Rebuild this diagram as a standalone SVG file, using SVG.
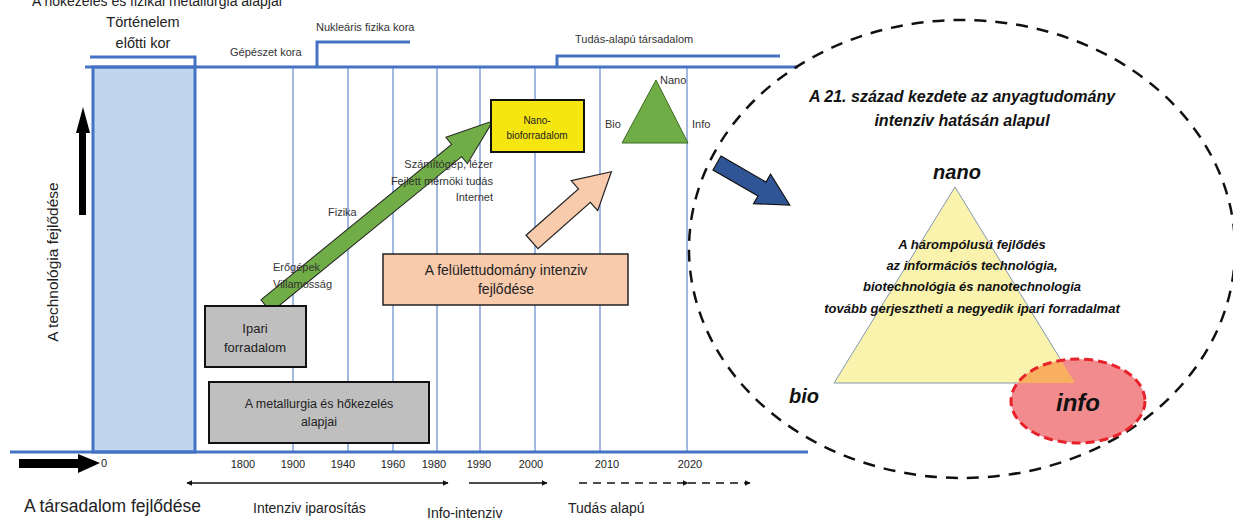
<svg xmlns="http://www.w3.org/2000/svg" width="1233" height="521" viewBox="0 0 1233 521">
<defs>
<style>
.t{font-family:"Liberation Sans",Arial,sans-serif;fill:#222}
.s{font-size:11px;fill:#333}
.y{font-size:11px;text-anchor:middle;fill:#222}
.bi{font-family:"Liberation Sans",Arial,sans-serif;font-weight:bold;font-style:italic;fill:#111}
.grid{stroke:#4472C4;stroke-width:1}
.axis{stroke:#4472C4;stroke-width:3;fill:none}
.box{stroke:#111;stroke-width:2}
.ar{stroke:#111;stroke-width:1.5;fill:none}
</style>
<marker id="ah" viewBox="0 0 10 10" refX="9" refY="5" markerWidth="6" markerHeight="6" orient="auto-start-reverse" markerUnits="userSpaceOnUse">
<path d="M0,0 L10,5 L0,10 z" fill="#111"/>
</marker>
<clipPath id="ec"><ellipse cx="1078" cy="401" rx="67" ry="42"/></clipPath>
</defs>

<rect width="1233" height="521" fill="#fff"/>

<g id="frame">
<rect x="93" y="67" width="102" height="385" fill="#C0D6EC" stroke="#4472C4" stroke-width="3"/>
<g class="grid">
<line x1="293" y1="67" x2="293" y2="452"/>
<line x1="348" y1="67" x2="348" y2="452"/>
<line x1="393" y1="67" x2="393" y2="452"/>
<line x1="437" y1="67" x2="437" y2="452"/>
<line x1="480" y1="67" x2="480" y2="452"/>
<line x1="535" y1="67" x2="535" y2="452"/>
<line x1="600" y1="67" x2="600" y2="452"/>
<line x1="687" y1="67" x2="687" y2="452"/>
</g>
<line class="axis" x1="85" y1="67" x2="798" y2="67"/>
<line class="axis" x1="10" y1="452" x2="808" y2="452"/>
<polyline class="axis" points="90,57 195,57 195,67"/>
<polyline class="axis" points="317,67 317,42 410,42" stroke-width="2"/>
<polyline class="axis" points="557,67 557,56 780,56" stroke-width="2"/>
</g>

<g id="top-labels">
<text class="t" x="32" y="6" font-size="14">A hőkezelés és fizikai metallurgia alapjai</text>
<text class="t" x="143" y="27" font-size="14.5" text-anchor="middle">Történelem</text>
<text class="t" x="143" y="48" font-size="14.5" text-anchor="middle">előtti kor</text>
<text class="t s" x="230" y="56">Gépészet kora</text>
<text class="t s" x="316" y="31">Nukleáris fizika kora</text>
<text class="t s" x="575" y="43">Tudás-alapú társadalom</text>
</g>

<g id="axes-labels">
<polygon points="79,215 86,215 86,133 90,133 83,107 76,133 79,133" fill="#000"/>
<text class="t" font-size="15.5" transform="translate(58,262) rotate(-90)" text-anchor="middle">A technológia fejlődése</text>
<polygon points="19,459 78,459 78,454 100,463 78,473 78,468 19,468" fill="#000"/>
<text class="t y" x="104" y="467">0</text>
<text class="t y" x="243" y="468">1800</text>
<text class="t y" x="293" y="468">1900</text>
<text class="t y" x="343" y="468">1940</text>
<text class="t y" x="393" y="468">1960</text>
<text class="t y" x="434" y="468">1980</text>
<text class="t y" x="479" y="468">1990</text>
<text class="t y" x="531" y="468">2000</text>
<text class="t y" x="607" y="468">2010</text>
<text class="t y" x="690" y="468">2020</text>
<text class="t" x="24" y="512" font-size="17.5">A társadalom fejlődése</text>
<text class="t" x="253" y="513" font-size="14">Intenziv iparosítás</text>
<text class="t" x="427" y="518" font-size="14">Info-intenziv</text>
<text class="t" x="568" y="513" font-size="14">Tudás alapú</text>
</g>

<g id="connectors">
<line class="ar" x1="187" y1="483" x2="448" y2="483" marker-start="url(#ah)" marker-end="url(#ah)"/>
<line class="ar" x1="469" y1="483" x2="547" y2="483" marker-end="url(#ah)"/>
<line class="ar" x1="579" y1="483" x2="688" y2="483" stroke-dasharray="8,6" marker-end="url(#ah)"/>
<line class="ar" x1="688" y1="483" x2="750" y2="483" stroke-dasharray="8,6" marker-end="url(#ah)"/>
<polygon transform="translate(266,306) rotate(-39.2)" points="0,-8 246,-8 246,-17 293,0 246,17 246,8 0,8" fill="#70AD47" stroke="#222" stroke-width="1"/>
<polygon transform="translate(532,242) rotate(-41.5)" points="0,-9 70,-9 70,-20 106,0 70,20 70,9 0,9" fill="#F8CBAD" stroke="#222" stroke-width="1.2"/>
<polygon transform="translate(717,163) rotate(30)" points="0,-8 52,-8 52,-17 84,0 52,17 52,8 0,8" fill="#2F5597" stroke="#111" stroke-width="1.2"/>
</g>

<g id="milestone-labels">
<text class="t s" x="493" y="168" text-anchor="end">Számítógép, lézer</text>
<text class="t s" x="493" y="185" text-anchor="end">Fejlett mérnöki tudás</text>
<text class="t s" x="493" y="201" text-anchor="end">Internet</text>
<text class="t s" x="328" y="216">Fizika</text>
<text class="t s" x="273" y="271">Erőgépek</text>
<text class="t s" x="273" y="288">Villamosság</text>
</g>

<g id="nano-bio-box">
<rect class="box" x="491" y="100" width="93" height="52" fill="#F5E610"/>
<text class="t" x="537" y="124" font-size="10" text-anchor="middle">Nano-</text>
<text class="t" x="537" y="139" font-size="10" text-anchor="middle">bioforradalom</text>
</g>

<g id="small-triangle">
<polygon points="656,80 622,143 688,143" fill="#70AD47" stroke="#3a6b22" stroke-width="1"/>
<text class="t s" x="660" y="84">Nano</text>
<text class="t s" x="605" y="128">Bio</text>
<text class="t s" x="692" y="128">Info</text>
</g>

<g id="felulet-box">
<rect x="383" y="254" width="245" height="51" fill="#F8CBAD" stroke="#222" stroke-width="1.5"/>
<text class="t" x="506" y="275" font-size="14" text-anchor="middle">A felülettudomány intenziv</text>
<text class="t" x="506" y="294" font-size="14" text-anchor="middle">fejlődése</text>
</g>

<g id="ipari-box">
<rect class="box" x="205" y="306" width="101" height="61" fill="#BFBFBF"/>
<text class="t" x="255" y="333" font-size="13" text-anchor="middle">Ipari</text>
<text class="t" x="255" y="352" font-size="13" text-anchor="middle">forradalom</text>
</g>

<g id="metallurgia-box">
<rect class="box" x="209" y="382" width="220" height="61" fill="#BFBFBF"/>
<text class="t" x="319" y="408" font-size="12.5" text-anchor="middle">A metallurgia és hőkezelés</text>
<text class="t" x="319" y="426" font-size="12.5" text-anchor="middle">alapjai</text>
</g>

<g id="century-circle">
<ellipse cx="962" cy="249" rx="273" ry="229" fill="none" stroke="#111" stroke-width="2.5" stroke-dasharray="12,9"/>
<text class="bi" x="962" y="102" font-size="16" text-anchor="middle">A 21. század kezdete az anyagtudomány</text>
<text class="bi" x="962" y="126" font-size="16" text-anchor="middle">intenziv hatásán alapul</text>
</g>

<g id="tri-pole">
<polygon points="955,187 834,383 1075,383" fill="#FAF3AE" stroke="#8497B0" stroke-width="1"/>
<ellipse cx="1078" cy="401" rx="67" ry="42" fill="#F28B8E"/>
<polygon points="955,187 834,383 1075,383" fill="#F8B060" clip-path="url(#ec)"/>
<ellipse cx="1078" cy="401" rx="67" ry="42" fill="none" stroke="#E8222A" stroke-width="3" stroke-dasharray="9,5"/>
<text class="bi" x="957" y="179" font-size="20" text-anchor="middle">nano</text>
<text class="bi" x="789" y="403" font-size="20">bio</text>
<text class="bi" x="1078" y="411" font-size="24" text-anchor="middle">info</text>
<text class="bi" x="972" y="249" font-size="13" text-anchor="middle">A hárompólusú  fejlődés</text>
<text class="bi" x="972" y="270" font-size="13" text-anchor="middle">az információs  technológia,</text>
<text class="bi" x="972" y="291" font-size="13" text-anchor="middle">biotechnológia  és nanotechnologia</text>
<text class="bi" x="972" y="313" font-size="13" text-anchor="middle">tovább gerjesztheti a negyedik ipari forradalmat</text>
</g>
</svg>
